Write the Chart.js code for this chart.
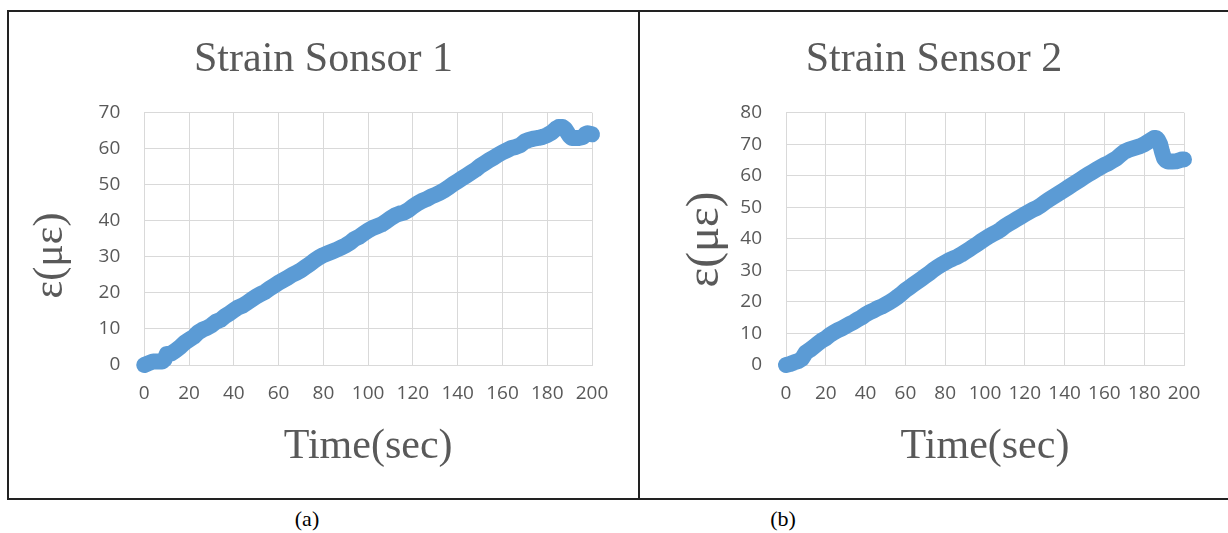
<!DOCTYPE html>
<html>
<head>
<meta charset="utf-8">
<script src="https://cdn.jsdelivr.net/npm/chart.js@4.4.0/dist/chart.umd.min.js"></script>
<style>
  html, body { margin: 0; padding: 0; background: #fff; width: 1228px; height: 533px; overflow: hidden; }
  #frame { position: absolute; left: 7px; top: 10px; width: 1240px; height: 490px; border: 2px solid #222; box-sizing: border-box; }
  #divider { position: absolute; left: 638px; top: 10px; width: 2px; height: 490px; background: #222; }
  .panel { position: absolute; top: 12px; }
  .cap { position: absolute; top: 506px; font: 22px "Liberation Serif", serif; color: #000; transform: translateX(-50%); }
</style>
</head>
<body>
<div id="frame"></div>
<div id="divider"></div>
<canvas id="c1" class="panel" style="left:9px" width="629" height="486"></canvas>
<canvas id="c2" class="panel" style="left:640px" width="588" height="486"></canvas>
<div class="cap" style="left:307px">(a)</div>
<div class="cap" style="left:783px">(b)</div>
<script>
// Sensor 1 readings: time (s) and strain (µε)
const time1 = [0, 2, 4, 6, 8, 9, 10, 12, 14, 16, 18, 20, 22, 24, 26, 28, 30, 32, 34, 36, 38, 40,
  42, 44, 46, 48, 50, 52, 54, 56, 58, 60, 62, 64, 66, 68, 70, 72, 74, 76, 78, 80, 82, 84, 86, 88,
  90, 92, 94, 96, 98, 100, 102, 104, 106, 108, 110, 112, 114, 116, 118, 120, 122, 124, 126, 128,
  130, 132, 134, 136, 138, 140, 142, 144, 146, 148, 150, 152, 154, 156, 158, 160, 162, 164, 166,
  168, 170, 172, 174, 176, 178, 180, 182, 184, 185, 186, 187, 188, 189, 190, 191, 192, 194, 196,
  197, 198, 200];
const strain1 = [0, 0.5, 1, 1, 1, 1.5, 3, 3.2, 4, 5, 6.2, 7, 7.8, 9, 9.8, 10.3, 11, 12, 12.5, 13.5,
  14.3, 15.2, 16, 16.5, 17.3, 18.2, 19, 19.7, 20.3, 21.2, 22, 22.8, 23.5, 24.2, 25, 25.6, 26.3,
  27.2, 28, 29, 29.8, 30.5, 31, 31.5, 32, 32.6, 33.2, 34, 35, 35.6, 36.5, 37.3, 38, 38.5, 39,
  39.8, 40.7, 41.5, 42, 42.3, 43, 44, 44.8, 45.5, 46, 46.7, 47.2, 47.8, 48.5, 49.3, 50.2, 51,
  51.8, 52.6, 53.4, 54.2, 55.2, 56, 56.8, 57.5, 58.3, 59, 59.6, 60.2, 60.5, 61, 62, 62.5, 62.8,
  63, 63.3, 63.8, 64.5, 65.6, 66, 66, 66, 65.5, 64.5, 63.5, 63, 63, 63, 63.3, 64, 64.3, 64];

// Sensor 2 readings: time (s) and strain (µε)
const time2 = [0, 2, 4, 6, 8, 10, 12, 14, 16, 18, 20, 22, 24, 26, 28, 30, 32, 34, 36, 38, 40, 42,
  44, 46, 48, 50, 52, 54, 56, 58, 60, 62, 64, 66, 68, 70, 72, 74, 76, 78, 80, 82, 84, 86, 88, 90,
  92, 94, 96, 98, 100, 102, 104, 106, 108, 110, 112, 114, 116, 118, 120, 122, 124, 126, 128, 130,
  132, 134, 136, 138, 140, 142, 144, 146, 148, 150, 152, 154, 156, 158, 160, 162, 164, 166, 168,
  170, 172, 174, 176, 178, 180, 182, 184, 185, 186, 187, 188, 189, 190, 191, 192, 194, 196, 198,
  199, 200];
const strain2 = [0, 0.3, 0.8, 1.2, 2, 4, 4.8, 5.8, 6.8, 7.8, 8.5, 9.5, 10.3, 11, 11.6, 12.3, 13,
  13.6, 14.4, 15.1, 16, 16.7, 17.3, 18, 18.5, 19.2, 19.9, 20.7, 21.6, 22.6, 23.7, 24.6, 25.5,
  26.4, 27.3, 28.2, 29.1, 30.1, 31, 31.8, 32.5, 33.2, 33.8, 34.3, 35, 35.8, 36.6, 37.5, 38.3,
  39.2, 40, 40.8, 41.5, 42.2, 43, 44, 44.8, 45.5, 46.3, 47, 47.8, 48.5, 49.2, 49.8, 50.6, 51.5,
  52.4, 53.2, 54, 54.8, 55.6, 56.4, 57.2, 58, 58.8, 59.7, 60.5, 61.2, 62, 62.7, 63.4, 64, 64.8,
  65.5, 66.6, 67.6, 68.2, 68.6, 69, 69.4, 70, 70.8, 71.6, 72, 72, 71.3, 70, 67.5, 65.5, 64.8,
  64.5, 64.5, 64.6, 65, 65.2, 65.2];

// Axis ranges and tick steps
const xTicks = { min: 0, max: 200, step: 20 };
const yTicks1 = { min: 0, max: 70, step: 10 };
const yTicks2 = { min: 0, max: 80, step: 10 };

const BLUE = '#5B9BD5';
const TEXT = '#595959';
const GRID = '#D9D9D9';
const SERIF = '"Liberation Serif", "Times New Roman", serif';
const SANS = '"Open Sans", "Liberation Sans", sans-serif';

// Rotated y-axis caption drawn at a fixed spot in the panel
const sideTitle = {
  id: 'sideTitle',
  afterDraw(chart, args, opts) {
    const ctx = chart.ctx;
    ctx.save();
    ctx.translate(opts.x, opts.y);
    ctx.rotate(-Math.PI / 2);
    ctx.font = opts.size + 'px ' + SERIF;
    ctx.fillStyle = TEXT;
    ctx.textAlign = 'center';
    ctx.textBaseline = 'middle';
    ctx.fillText(opts.text, 0, 0);
    ctx.restore();
  }
};

function makeChart(id, title, times, values, yr, cfg) {
  return new Chart(document.getElementById(id), {
    type: 'scatter',
    data: {
      datasets: [{
        data: times.map((t, i) => ({ x: t, y: values[i] })),
        showLine: true,
        borderColor: BLUE,
        backgroundColor: BLUE,
        borderWidth: 16,
        borderCapStyle: 'round',
        borderJoinStyle: 'round',
        pointRadius: 0,
        tension: 0,
        clip: false
      }]
    },
    plugins: [sideTitle],
    options: {
      responsive: false,
      animation: false,
      events: [],
      // equal side padding keeps the chart title centred on the panel
      layout: { padding: { left: cfg.pad, right: cfg.pad, top: 0, bottom: 0 } },
      plugins: {
        legend: { display: false },
        tooltip: { enabled: false },
        title: {
          display: true,
          text: title,
          color: TEXT,
          font: { family: SERIF, size: 42, weight: 'normal', lineHeight: 1.2 },
          padding: { top: 22.5, bottom: 27.8 }
        },
        sideTitle: { text: 'ε(με)', x: cfg.yTitleX, y: cfg.yTitleY, size: cfg.yTitleSize }
      },
      scales: {
        x: {
          type: 'linear',
          min: xTicks.min, max: xTicks.max,
          afterFit: (s) => { s.height = 133; },
          ticks: { stepSize: xTicks.step, color: TEXT, font: { family: SANS, size: 19 }, padding: 17, maxRotation: 0, autoSkip: false },
          grid: { color: GRID, lineWidth: 1, drawTicks: false },
          border: { color: GRID, width: 1 },
          title: {
            display: true,
            text: 'Time(sec)',
            color: TEXT,
            font: { family: SERIF, size: 42, lineHeight: 1.2 },
            padding: { top: 0, bottom: 25.8 }
          }
        },
        y: {
          min: yr.min, max: yr.max,
          afterFit: (s) => { s.width = cfg.yWidth; },
          ticks: { stepSize: yr.step, color: TEXT, font: { family: SANS, size: 19 }, padding: 24 },
          grid: { color: GRID, lineWidth: 1, drawTicks: false },
          border: { color: GRID, width: 1 }
        }
      }
    }
  });
}

makeChart('c1', 'Strain Sonsor 1', time1, strain1, yTicks1,
  { pad: 46, yWidth: 89.3, yTitleX: 42, yTitleY: 243.5, yTitleSize: 42 });
makeChart('c2', 'Strain Sensor 2', time2, strain2, yTicks2,
  { pad: 44, yWidth: 102, yTitleX: 66, yTitleY: 227.5, yTitleSize: 47 });
</script>
</body>
</html>
